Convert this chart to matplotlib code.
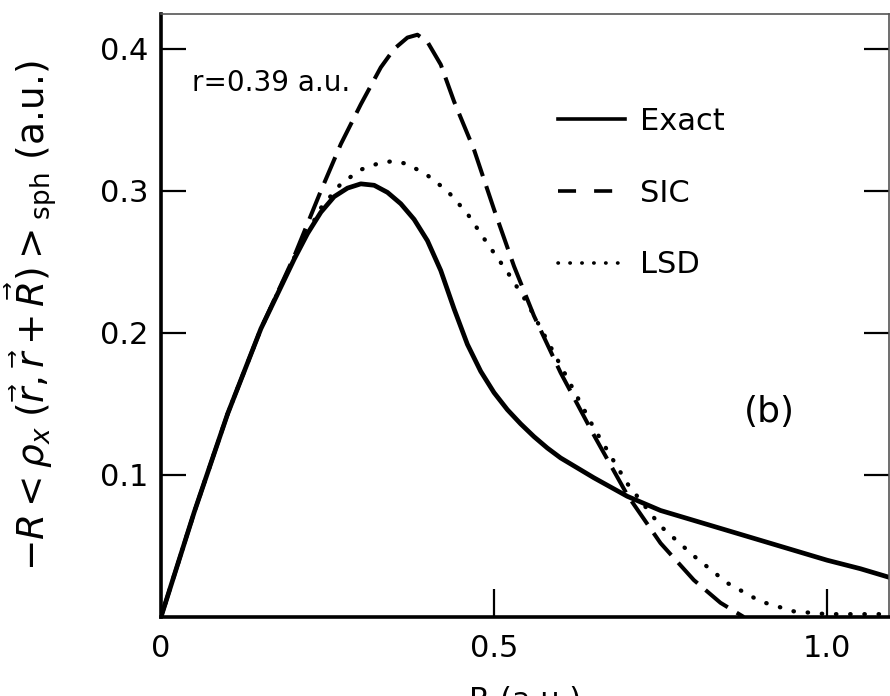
import matplotlib
matplotlib.use("Agg")
import matplotlib.pyplot as plt
from matplotlib.lines import Line2D

plt.rcParams["font.family"] = ["DejaVu Sans"]
plt.rcParams["mathtext.fontset"] = "dejavusans"

# exchange hole, spherical average, electron at r = 0.39 a.u.
r_exact = [0.00, 0.05, 0.10, 0.15, 0.20, 0.22, 0.24, 0.26, 0.28, 0.30, 0.32,
           0.34, 0.36, 0.38, 0.40, 0.42, 0.44, 0.46, 0.48, 0.50, 0.52, 0.54,
           0.56, 0.58, 0.60, 0.65, 0.70, 0.75, 0.80, 0.85, 0.90, 0.95, 1.00,
           1.05, 1.10]
v_exact = [0.000, 0.074, 0.143, 0.203, 0.252, 0.270, 0.285, 0.296, 0.302, 0.305, 0.304,
           0.299, 0.291, 0.280, 0.265, 0.244, 0.217, 0.192, 0.173, 0.158, 0.146, 0.136,
           0.127, 0.119, 0.112, 0.098, 0.085, 0.075, 0.068, 0.061, 0.054, 0.047, 0.040,
           0.034, 0.027]

r_sic = [0.00, 0.05, 0.10, 0.15, 0.20, 0.24, 0.27, 0.30, 0.33, 0.35, 0.37,
         0.385, 0.40, 0.42, 0.44, 0.47, 0.50, 0.53, 0.56, 0.60, 0.65, 0.70,
         0.75, 0.80, 0.84, 0.875]
v_sic = [0.000, 0.074, 0.143, 0.203, 0.254, 0.300, 0.333, 0.361, 0.387, 0.400, 0.408,
         0.410, 0.405, 0.389, 0.363, 0.329, 0.287, 0.247, 0.212, 0.172, 0.128, 0.086,
         0.052, 0.026, 0.010, 0.000]

r_lsd = [0.00, 0.05, 0.10, 0.15, 0.20, 0.24, 0.27, 0.30, 0.33, 0.35, 0.37,
         0.40, 0.43, 0.46, 0.49, 0.52, 0.55, 0.60, 0.65, 0.70, 0.75, 0.80,
         0.85, 0.90, 0.95, 1.00, 1.10]
v_lsd = [0.000, 0.074, 0.143, 0.203, 0.253, 0.288, 0.305, 0.315, 0.320, 0.321, 0.319,
         0.311, 0.300, 0.284, 0.263, 0.243, 0.221, 0.177, 0.133, 0.094, 0.064, 0.043,
         0.024, 0.011, 0.004, 0.002, 0.002]

labels = ["Exact", "SIC", "LSD"]

fig = plt.figure(figsize=(8.9, 6.96), dpi=100)
ax = fig.add_axes([161 / 890, 1 - 617 / 696, (889 - 161) / 890, (617 - 14) / 696])

ax.plot(r_exact, v_exact, color="black", lw=3.4, solid_capstyle="round",
        solid_joinstyle="round")
ax.plot(r_sic, v_sic, color="black", lw=2.9, ls=(0, (7, 2.6)))
ax.plot(r_lsd, v_lsd, color="black", lw=3.1, ls=(0, (0.1, 3.2)),
        dash_capstyle="round")

ax.set_xlim(0, 1.093)
ax.set_ylim(0, 0.4246)

ax.set_xticks([0, 0.5, 1.0])
ax.set_xticklabels(["0", "0.5", "1.0"])
ax.set_yticks([0.1, 0.2, 0.3, 0.4])
ax.set_yticklabels(["0.1", "0.2", "0.3", "0.4"])
ax.tick_params(axis="y", direction="in", length=18, width=1.6, labelsize=22,
               pad=9, right=True)
ax.tick_params(axis="x", direction="in", length=20, width=1.6, labelsize=22,
               pad=12)
ax.xaxis.get_major_ticks()[0].tick1line.set_visible(False)

for side in ["left", "bottom"]:
    ax.spines[side].set_linewidth(2.6)
for side in ["top", "right"]:
    ax.spines[side].set_linewidth(1.2)
    ax.spines[side].set_color("#555555")

ax.set_xlabel("R (a.u.)", fontsize=22, labelpad=17)
ax.set_ylabel(r"$-R < \rho_x\;(\vec{r},\vec{r}+\vec{R})>_{\mathrm{sph}}$ (a.u.)",
              fontsize=27)
ax.yaxis.set_label_coords(-0.14, 0.5)

ax.text(0.043, 0.885, "r=0.39 a.u.", transform=ax.transAxes, fontsize=20,
        va="center", ha="left")
ax.text(0.835, 0.34, "(b)", transform=ax.transAxes, fontsize=26,
        va="center", ha="center")

handles = [
    Line2D([], [], color="black", lw=2.6),
    Line2D([], [], color="black", lw=2.6, ls=(0, (5, 5))),
    Line2D([], [], color="black", lw=2.6, ls=(0, (0.1, 3.2)), dash_capstyle="round"),
]
ax.legend(handles, labels, loc="upper left", bbox_to_anchor=(0.545, 0.846),
          frameon=False, fontsize=22, handlelength=2.2, handletextpad=0.5,
          labelspacing=1.4, borderpad=0, borderaxespad=0)

fig.savefig("out.png", dpi=100)
